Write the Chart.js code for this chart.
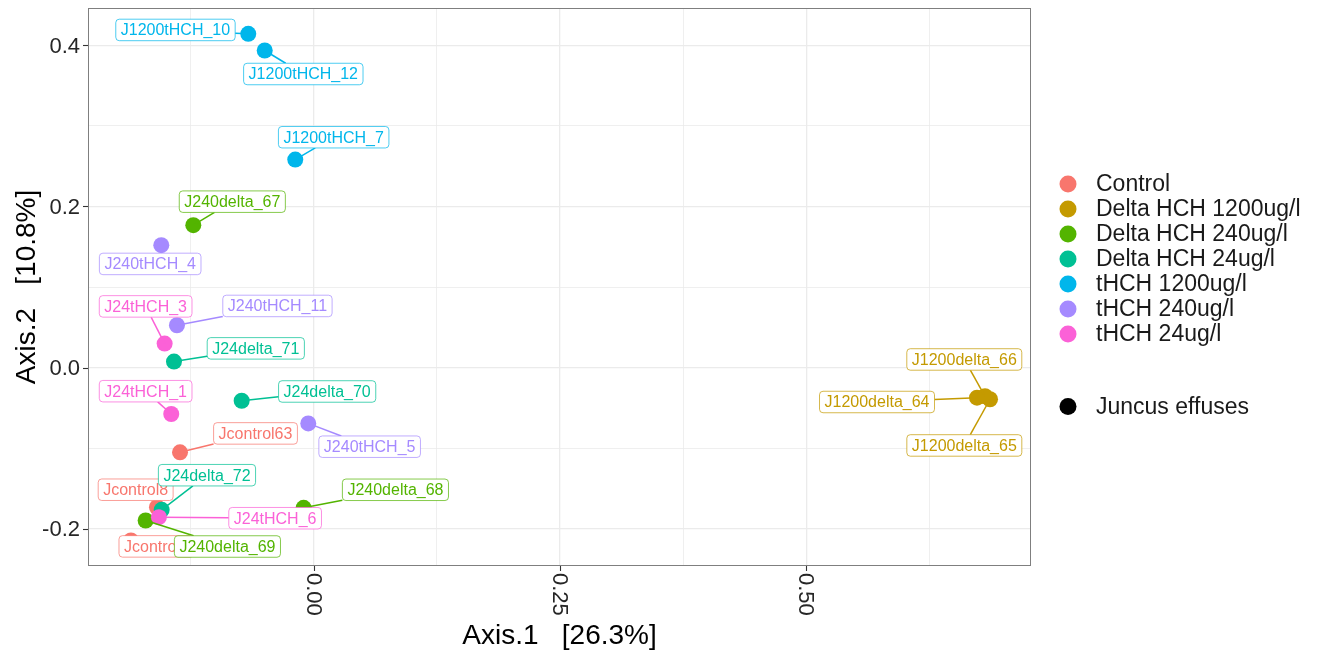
<!DOCTYPE html>
<html>
<head>
<meta charset="utf-8">
<title>PCoA ordination</title>
<script src="https://cdn.jsdelivr.net/npm/chart.js@4.4.1/dist/chart.umd.min.js"></script>
<style>
  html, body { margin: 0; padding: 0; background: #ffffff; }
  canvas { display: block; }
</style>
</head>
<body>
<canvas id="chart" width="1319" height="655"></canvas>
<script>
// ---- data -------------------------------------------------------------
const groups = [
  'Control',
  'Delta HCH 1200ug/l',
  'Delta HCH 240ug/l',
  'Delta HCH 24ug/l',
  'tHCH 1200ug/l',
  'tHCH 240ug/l',
  'tHCH 24ug/l'
];
const plantLabel = 'Juncus effuses';

const sampleNames = [
  'Jcontrol8', 'Jcontrol9', 'Jcontrol63',
  'J1200delta_64', 'J1200delta_65', 'J1200delta_66',
  'J240delta_67', 'J240delta_68', 'J240delta_69',
  'J24delta_70', 'J24delta_71', 'J24delta_72',
  'J24tHCH_1', 'J24tHCH_3', 'J240tHCH_4', 'J240tHCH_5', 'J24tHCH_6',
  'J1200tHCH_7', 'J1200tHCH_10', 'J240tHCH_11', 'J1200tHCH_12'
];
// index into groups
const sampleGroups = [
  0, 0, 0,
  1, 1, 1,
  2, 2, 2,
  3, 3, 3,
  6, 6, 5, 5, 6,
  4, 4, 5, 4
];
const axis1 = [
  -0.1591, -0.1855, -0.1357,
   0.6734,  0.6866,  0.6815,
  -0.1222, -0.0102, -0.1706,
  -0.0731, -0.1418, -0.1543,
  -0.1446, -0.1513, -0.1547, -0.0055, -0.1571,
  -0.0187, -0.0664, -0.1388, -0.0497
];
const axis2 = [
  -0.1735, -0.2147, -0.1053,
  -0.0375, -0.0394, -0.0357,
   0.1768, -0.1742, -0.1900,
  -0.0413,  0.0074, -0.1767,
  -0.0577,  0.0297,  0.1520, -0.0694, -0.1859,
   0.2582,  0.4144,  0.0525,  0.3937
];

const xTicks = [0, 0.25, 0.5];
const xTickLabels = ['0.00', '0.25', '0.50'];
const xMinorTicks = [-0.125, 0.125, 0.375, 0.625];
const yTicks = [-0.2, 0, 0.2, 0.4];
const yTickLabels = ['-0.2', '0.0', '0.2', '0.4'];
const yMinorTicks = [-0.1, 0.1, 0.3];
const xTitle = 'Axis.1   [26.3%]';
const yTitle = 'Axis.2   [10.8%]';

// ---- styling / layout ---------------------------------------------------
const groupColors = ['#F8766D', '#C49A00', '#53B400', '#00C094', '#00B6EB', '#A58AFF', '#FB61D7'];
// repelled label placement: label centre relative to its point, in px
const labelOffsets = [
  [-21.3, -17.5], [25.5, 6], [75.5, -18.9],
  [-100, 4.3], [-25.7, 46.2], [-20.7, -36.8],
  [39, -23.5], [91.8, -18], [81.8, 26],
  [85.5, -9.3], [81.8, -13.2], [45.3, -34.6],
  [-25.6, -22.8], [-19, -37.2], [-11.1, 18.8], [61.4, 23.3], [116.2, 1],
  [38.4, -22.4], [-72.8, -3.9], [100.5, -19.3], [38.6, 23.5]
];
const FONT = '"Liberation Sans", Arial, Helvetica, sans-serif';
const POINT_R = 8;
const X_RANGE = [-0.2291, 0.7282];
const Y_RANGE = [-0.2465, 0.4465];

function withAlpha(hex, a) {
  const n = parseInt(hex.slice(1), 16);
  return `rgba(${(n >> 16) & 255},${(n >> 8) & 255},${n & 255},${a})`;
}

const datasets = groups.map((g, gi) => ({
  label: g,
  data: sampleNames
    .map((n, i) => (sampleGroups[i] === gi ? { x: axis1[i], y: axis2[i] } : null))
    .filter(Boolean),
  backgroundColor: groupColors[gi],
  borderColor: groupColors[gi],
  borderWidth: 0,
  pointRadius: POINT_R,
  pointHoverRadius: POINT_R,
  order: groups.length - gi
}));

const isMajor = (list, v) => list.some(t => Math.abs(t - v) < 1e-9);

// labels, axes decoration and legend drawn on top of the plotted points
const decorPlugin = {
  id: 'decor',
  afterDatasetsDraw(chart) {
    const ctx = chart.ctx;
    const xs = chart.scales.x, ys = chart.scales.y;
    const area = chart.chartArea;

    // repelled labels: segments first, then boxes
    ctx.save();
    ctx.font = `16px ${FONT}`;
    const PAD = 5, H = 21.5;
    const boxes = sampleNames.map((name, i) => {
      const px = xs.getPixelForValue(axis1[i]);
      const py = ys.getPixelForValue(axis2[i]);
      const cx = px + labelOffsets[i][0];
      const cy = py + labelOffsets[i][1];
      const w = ctx.measureText(name).width + 2 * PAD;
      return { name, px, py, cx, cy, w, h: H, color: groupColors[sampleGroups[i]] };
    });
    boxes.forEach(b => {
      const ddx = b.px - b.cx, ddy = b.py - b.cy;
      const tx = Math.abs(ddx) > 1e-6 ? (b.w / 2) / Math.abs(ddx) : Infinity;
      const ty = Math.abs(ddy) > 1e-6 ? (b.h / 2) / Math.abs(ddy) : Infinity;
      const t = Math.min(tx, ty);
      if (t >= 1) return;
      const ex = b.cx + t * ddx, ey = b.cy + t * ddy;
      const len = Math.hypot(b.px - ex, b.py - ey);
      if (len < POINT_R + 3) return;
      ctx.strokeStyle = b.color;
      ctx.lineWidth = 1.5;
      ctx.beginPath();
      ctx.moveTo(b.px, b.py);
      ctx.lineTo(ex, ey);
      ctx.stroke();
    });
    boxes.forEach(b => {
      const l = b.cx - b.w / 2, t = b.cy - b.h / 2;
      ctx.beginPath();
      ctx.roundRect(l, t, b.w, b.h, 3.5);
      ctx.fillStyle = '#ffffff';
      ctx.fill();
      ctx.strokeStyle = withAlpha(b.color, 0.7);
      ctx.lineWidth = 1;
      ctx.stroke();
      ctx.fillStyle = b.color;
      ctx.textAlign = 'center';
      ctx.textBaseline = 'middle';
      ctx.fillText(b.name, b.cx, b.cy + 1);
    });
    ctx.restore();

    // panel border
    ctx.save();
    ctx.strokeStyle = '#7f7f7f';
    ctx.lineWidth = 1;
    ctx.strokeRect(area.left + 0.5, area.top + 0.5, area.right - area.left - 1, area.bottom - area.top - 1);

    // tick marks
    ctx.strokeStyle = '#333333';
    ctx.lineWidth = 1.1;
    xTicks.forEach(v => {
      const x = Math.round(xs.getPixelForValue(v)) + 0.5;
      ctx.beginPath(); ctx.moveTo(x, area.bottom); ctx.lineTo(x, area.bottom + 5); ctx.stroke();
    });
    yTicks.forEach(v => {
      const y = Math.round(ys.getPixelForValue(v)) + 0.5;
      ctx.beginPath(); ctx.moveTo(area.left - 5, y); ctx.lineTo(area.left, y); ctx.stroke();
    });

    // tick labels
    ctx.fillStyle = '#262626';
    ctx.font = `22px ${FONT}`;
    xTicks.forEach((v, i) => {
      const x = xs.getPixelForValue(v);
      ctx.save();
      ctx.translate(x, area.bottom + 7);
      ctx.rotate(Math.PI / 2);
      ctx.textAlign = 'left';
      ctx.textBaseline = 'middle';
      ctx.fillText(xTickLabels[i], 0, 1);
      ctx.restore();
    });
    ctx.textAlign = 'right';
    ctx.textBaseline = 'middle';
    yTicks.forEach((v, i) => {
      ctx.fillText(yTickLabels[i], area.left - 8, ys.getPixelForValue(v) + 1);
    });

    // axis titles
    ctx.fillStyle = '#000000';
    ctx.font = `28px ${FONT}`;
    ctx.textAlign = 'center';
    ctx.textBaseline = 'middle';
    ctx.fillText(xTitle, (area.left + area.right) / 2, 636);
    ctx.save();
    ctx.translate(27, (area.top + area.bottom) / 2);
    ctx.rotate(-Math.PI / 2);
    ctx.fillText(yTitle, 0, 0);
    ctx.restore();

    // legend: colour key then shape key
    ctx.font = `23px ${FONT}`;
    ctx.textAlign = 'left';
    ctx.textBaseline = 'middle';
    const lx = 1068, tx0 = 1096, ly0 = 184, step = 25;
    groups.forEach((g, gi) => {
      const y = ly0 + gi * step;
      ctx.beginPath();
      ctx.arc(lx, y, 8.5, 0, Math.PI * 2);
      ctx.fillStyle = groupColors[gi];
      ctx.fill();
      ctx.fillStyle = '#1a1a1a';
      ctx.fillText(g, tx0, y + 1);
    });
    ctx.beginPath();
    ctx.arc(lx, 406.5, 8.5, 0, Math.PI * 2);
    ctx.fillStyle = '#000000';
    ctx.fill();
    ctx.fillStyle = '#1a1a1a';
    ctx.fillText(plantLabel, tx0, 407.5);
    ctx.restore();
  }
};

new Chart(document.getElementById('chart'), {
  type: 'scatter',
  data: { datasets },
  options: {
    responsive: false,
    devicePixelRatio: 1,
    animation: false,
    events: [],
    layout: { padding: { left: 0, right: 288, top: 6, bottom: 0 } },
    plugins: { legend: { display: false }, tooltip: { enabled: false } },
    scales: {
      x: {
        type: 'linear',
        min: X_RANGE[0],
        max: X_RANGE[1],
        afterBuildTicks: s => {
          s.ticks = [...xMinorTicks, ...xTicks].sort((a, b) => a - b).map(v => ({ value: v }));
        },
        afterFit: s => { s.height = 89; },
        ticks: { display: false },
        border: { display: false },
        grid: {
          color: '#ebebeb',
          lineWidth: c => (isMajor(xTicks, c.tick.value) ? 1.3 : 0.8),
          drawTicks: false
        }
      },
      y: {
        type: 'linear',
        min: Y_RANGE[0],
        max: Y_RANGE[1],
        afterBuildTicks: s => {
          s.ticks = [...yMinorTicks, ...yTicks].sort((a, b) => a - b).map(v => ({ value: v }));
        },
        afterFit: s => { s.width = 88; },
        ticks: { display: false },
        border: { display: false },
        grid: {
          color: '#ebebeb',
          lineWidth: c => (isMajor(yTicks, c.tick.value) ? 1.3 : 0.8),
          drawTicks: false
        }
      }
    }
  },
  plugins: [decorPlugin]
});
</script>
</body>
</html>
